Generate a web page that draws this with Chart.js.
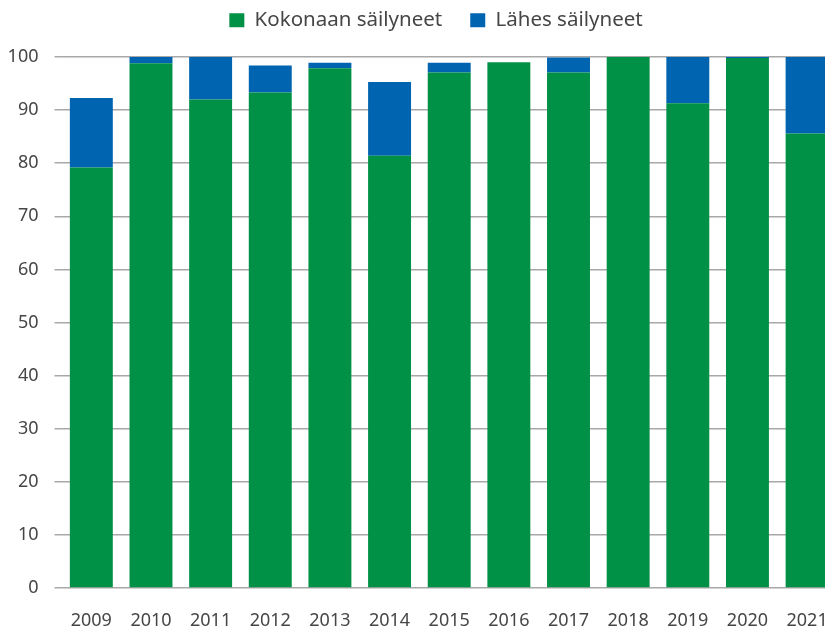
<!DOCTYPE html>
<html>
<head>
<meta charset="utf-8">
<script src="https://cdn.jsdelivr.net/npm/chart.js@4/dist/chart.umd.min.js"></script>
<style>
    html, body { margin: 0; padding: 0; background: #fff; overflow: hidden; }
    #wrap { width: 850px; height: 632px; }
</style>
</head>
<body>
<div id="wrap"><canvas id="chart"></canvas></div>
<script>
// Data
const years = ['2009', '2010', '2011', '2012', '2013', '2014', '2015', '2016', '2017', '2018', '2019', '2020', '2021'];
const kokonaan = [79.2, 98.8, 92.0, 93.3, 97.9, 81.4, 97.1, 99.0, 97.1, 100, 91.3, 99.8, 85.6];
const lahes = [13.1, 1.2, 8.0, 5.1, 1.0, 13.9, 1.8, 0, 2.8, 0, 8.7, 0.2, 14.4];
const yTicks = [0, 10, 20, 30, 40, 50, 60, 70, 80, 90, 100];

const green = '#009046';
const blue = '#0064b0';
const gridColor = '#a8a8a8';
const textColor = '#464646';
const fontFamily = "'Noto Sans', sans-serif";

// Legend block sized so the plot starts at the same height as the reference,
// then nudged up and to the right
const legendPlace = {
    id: 'legendPlace',
    beforeInit(chart) {
        const origFit = chart.legend.fit;
        chart.legend.fit = function() {
            origFit.bind(chart.legend)();
            this.height = 57;
        };
    },
    afterLayout(chart) {
        const lg = chart.legend;
        lg.top -= 18;
        lg.bottom -= 18;
        lg.left += 15;
        lg.right += 15;
    }
};

const ctx = document.getElementById('chart').getContext('2d');
new Chart(ctx, {
    type: 'bar',
    data: {
        labels: years,
        datasets: [{
            label: 'Kokonaan säilyneet',
            data: kokonaan,
            backgroundColor: green,
            barPercentage: 0.72,
            categoryPercentage: 1
        }, {
            label: 'Lähes säilyneet',
            data: lahes,
            backgroundColor: blue,
            barPercentage: 0.72,
            categoryPercentage: 1
        }]
    },
    options: {
        responsive: true,
        maintainAspectRatio: false,
        animation: false,
        layout: {
            padding: { top: 0, left: 0, right: 8, bottom: 0 }
        },
        plugins: {
            legend: {
                display: true,
                position: 'top',
                labels: {
                    boxWidth: 15,
                    boxHeight: 14,
                    padding: 28,
                    color: textColor,
                    font: { family: fontFamily, size: 20.5 }
                }
            },
            tooltip: { enabled: false }
        },
        scales: {
            x: {
                stacked: true,
                grid: { display: false, drawTicks: false },
                border: { display: false },
                ticks: {
                    color: textColor,
                    padding: 22,
                    font: { family: fontFamily, size: 18 }
                },
                afterFit: function(axis) { axis.height = 44; }
            },
            y: {
                stacked: true,
                min: 0,
                max: 100,
                border: { display: false },
                grid: {
                    color: gridColor,
                    lineWidth: 1.5,
                    drawTicks: true,
                    tickLength: 7,
                    tickColor: gridColor
                },
                afterBuildTicks: function(axis) {
                    axis.ticks = yTicks.map(v => ({ value: v }));
                },
                ticks: {
                    color: textColor,
                    padding: 16,
                    font: { family: fontFamily, size: 18 }
                },
                afterFit: function(axis) { axis.width = 61.5; }
            }
        }
    },
    plugins: [legendPlace]
});
</script>
</body>
</html>
